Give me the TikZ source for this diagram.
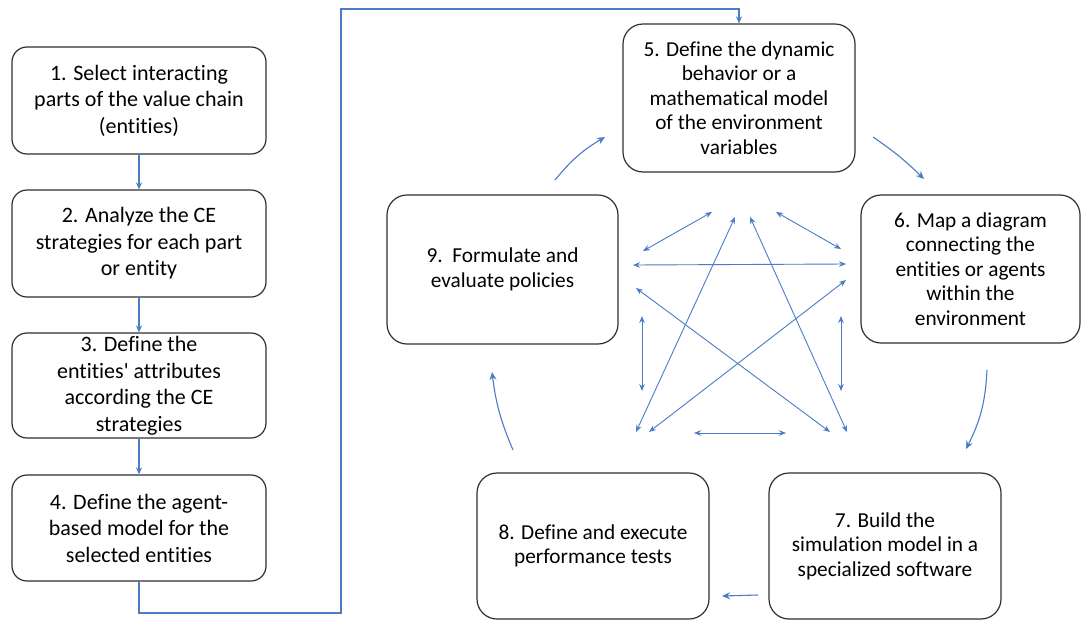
\documentclass[tikz,border=0pt]{standalone}
\usepackage{fontspec}
\setmainfont{Carlito}[Ligatures=NoCommon]
\usetikzlibrary{arrows.meta}
\definecolor{arrblue}{HTML}{4A7CC9}
\definecolor{boxline}{HTML}{303030}
\tikzset{
  lbox/.style={draw=boxline, line width=1.2pt, rounded corners=15pt, minimum width=254pt, align=center, font=\fontsize{22}{26.5}\selectfont, inner sep=0pt},
  rbox/.style={draw=boxline, line width=1.2pt, rounded corners=20pt, align=center, font=\fontsize{21.3}{24.5}\selectfont, inner sep=0pt},
  conn/.style={draw=arrblue, line width=1.1pt, -{Stealth[length=7pt,width=6pt]}},
  star/.style={draw=arrblue, line width=0.9pt, {Stealth[length=7pt,width=5.5pt]}-{Stealth[length=7pt,width=5.5pt]}},
  curv/.style={draw=arrblue, line width=1.1pt, -{Stealth[length=8pt,width=7pt]}}
}
\begin{document}
\begin{tikzpicture}[x=1pt,y=-1pt]
\useasboundingbox (0,0) rectangle (1082,619);
\fill[white] (0,0) rectangle (1082,619);
% left column
\node[lbox, minimum height=107pt] (b1) at (139,100.5) {1. Select interacting\\parts of the value chain\\(entities)};
\node[lbox, minimum height=107pt] (b2) at (139,243.5) {2. Analyze the CE\\strategies for each part\\or entity};
\node[lbox, minimum height=105pt] (b3) at (139,385.5) {3. Define the\\entities\textquotesingle{} attributes\\according the CE\\strategies};
\node[lbox, minimum height=106pt] (b4) at (139,528) {4. Define the agent-\\based model for the\\selected entities};
% right cycle
\node[rbox, minimum width=232pt, minimum height=148pt] (b5) at (739,98) {5. Define the dynamic\\behavior or a\\mathematical model\\of the environment\\variables};
\node[rbox, minimum width=219pt, minimum height=148pt] (b6) at (970.5,269) {6. Map a diagram\\connecting the\\entities or agents\\within the\\environment};
\node[rbox, minimum width=231pt, minimum height=149pt] (b9) at (502.5,269.5) {9.\ \ Formulate and\\evaluate policies};
\node[rbox, minimum width=232pt, minimum height=146pt] (b7) at (885,546) {7. Build the\\simulation model in a\\specialized software};
\node[rbox, minimum width=232pt, minimum height=146pt] (b8) at (593,546) {8. Define and execute\\performance tests};
% left chain connectors
\draw[conn] (b1.south) -- (b2.north);
\draw[conn] (b2.south) -- (b3.north);
\draw[conn] (b3.south) -- (b4.north);
\draw[conn] (b4.south) -- (139,613) -- (341,613) -- (341,9) -- (739,9) -- (b5.north);
% cycle arrows
\coordinate (c95s) at (555,180); \coordinate (c95e) at (605,137);
\coordinate (c56s) at (873,137); \coordinate (c56e) at (924,179);
\coordinate (c67s) at (987,370); \coordinate (c67e) at (966,449);
\coordinate (c78s) at (758,595); \coordinate (c78e) at (722,596);
\coordinate (c89s) at (513,450); \coordinate (c89e) at (492,372);
\draw[curv] (c95s) to[bend left=10] (c95e);
\draw[curv] (c56s) to[bend left=5] (c56e);
\draw[curv] (c67s) to[bend left=12] (c67e);
\draw[curv] (c78s) -- (c78e);
\draw[curv] (c89s) to[bend left=8] (c89e);
% star of interactions
\coordinate (s1a) at (643,251); \coordinate (s1b) at (712,212);
\coordinate (s2a) at (776,212); \coordinate (s2b) at (841,249);
\coordinate (s3a) at (633,265); \coordinate (s3b) at (846,264);
\coordinate (s4a) at (636,288); \coordinate (s4b) at (830,432);
\coordinate (s5a) at (846,280); \coordinate (s5b) at (649,432);
\coordinate (s6a) at (735,217); \coordinate (s6b) at (636,432);
\coordinate (s7a) at (750,217); \coordinate (s7b) at (847,432);
\coordinate (s8a) at (642,316); \coordinate (s8b) at (642,391);
\coordinate (s9a) at (841,316); \coordinate (s9b) at (841,391);
\coordinate (s10a) at (694,433); \coordinate (s10b) at (786,433);
\foreach \i in {1,...,10} {\draw[star] (s\i a) -- (s\i b);}
\end{tikzpicture}
\end{document}
